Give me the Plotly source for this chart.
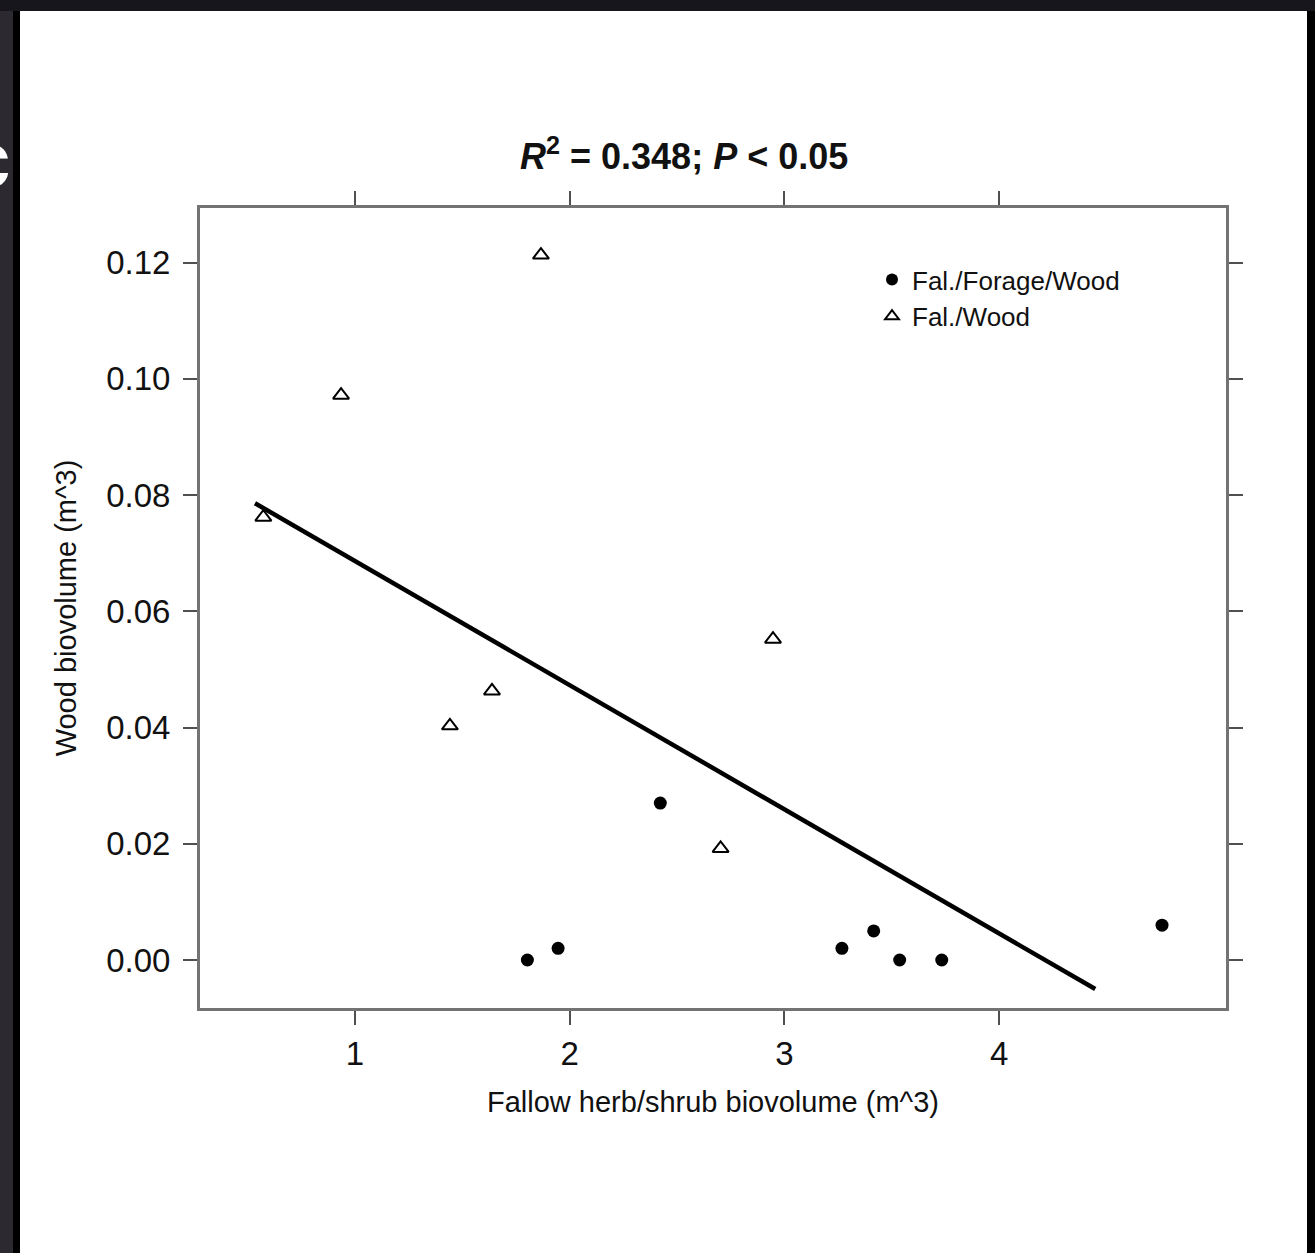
import plotly.graph_objects as go

# ---- data ----
forage_x = [1.803, 1.946, 2.422, 3.268, 3.416, 3.537, 3.733, 4.759]
forage_y = [0.000, 0.002, 0.027, 0.002, 0.005, 0.000, 0.000, 0.006]
wood_x = [0.573, 0.935, 1.866, 1.442, 1.638, 2.947, 2.703]
wood_y = [0.0762, 0.0972, 0.1213, 0.0403, 0.0463, 0.0552, 0.0192]
fit_x = [0.534, 4.448]
fit_y = [0.0786, -0.0050]
x_ticks = [1, 2, 3, 4]
y_ticks = [0.00, 0.02, 0.04, 0.06, 0.08, 0.10, 0.12]
series_names = ["Fal./Forage/Wood", "Fal./Wood"]
title_html = "<b><i>R</i><sup>2</sup> = 0.348; <i>P</i> &lt; 0.05</b>"
x_title = "Fallow herb/shrub biovolume (m^3)"
y_title = "Wood biovolume (m^3)"

W, H = 1315, 1253
L, R, T, B = 200, 89, 208, 245
PW, PH = W - L - R, H - T - B

def px(xv):
    return (xv - L) / PW

def py(yv):
    return (H - B - yv) / PH

FONT = "Liberation Sans, Arial, Helvetica, sans-serif"

fig = go.Figure()
fig.add_trace(go.Scatter(
    x=fit_x, y=fit_y, mode="lines", line=dict(color="black", width=4.5),
    showlegend=False, hoverinfo="skip"))
fig.add_trace(go.Scatter(
    x=forage_x, y=forage_y, mode="markers", name=series_names[0],
    marker=dict(symbol="circle", size=13, color="black")))
fig.add_trace(go.Scatter(
    x=wood_x, y=wood_y, mode="markers", name=series_names[1],
    marker=dict(symbol="triangle-up-open", size=14, color="black",
                line=dict(color="black", width=2))))

shapes = [
    dict(type="rect", xref="paper", yref="paper", x0=px(0), x1=px(13), y0=py(11), y1=py(H),
         fillcolor="#2c2a30", line=dict(width=0), layer="below"),
    dict(type="rect", xref="paper", yref="paper", x0=px(13), x1=px(20), y0=py(11), y1=py(H),
         fillcolor="#000000", line=dict(width=0), layer="below"),
    dict(type="rect", xref="paper", yref="paper", x0=px(20), x1=px(1307), y0=py(11), y1=py(H),
         fillcolor="#ffffff", line=dict(width=0), layer="below"),
    dict(type="rect", xref="paper", yref="paper", x0=px(1307), x1=px(W), y0=py(11), y1=py(H),
         fillcolor="#000000", line=dict(width=0), layer="below"),
]

axis_common = dict(
    showline=True, linecolor="#737373", linewidth=3, mirror="ticks",
    ticks="outside", ticklen=14, tickwidth=2, tickcolor="#505050",
    showgrid=False, zeroline=False,
    tickfont=dict(family=FONT, size=33, color="#111111"),
)

fig.update_layout(
    width=W, height=H,
    margin=dict(l=L, r=R, t=T, b=B, autoexpand=False),
    paper_bgcolor="#18161d", plot_bgcolor="white",
    shapes=shapes,
    xaxis=dict(axis_common, range=[0.278, 5.057], tickvals=x_ticks,
               ticktext=[str(v) for v in x_ticks], ticklabelstandoff=0,
               title=dict(text=x_title, font=dict(family=FONT, size=29, color="#111111"), standoff=22)),
    yaxis=dict(axis_common, range=[-0.00826, 0.1294], tickvals=y_ticks,
               ticktext=["%.2f" % v for v in y_ticks], ticklabelstandoff=6,
               title=dict(text=y_title, font=dict(family=FONT, size=29, color="#111111"), standoff=22)),
    legend=dict(x=px(872), y=py(256), xanchor="left", yanchor="top",
                bgcolor="rgba(0,0,0,0)", font=dict(family=FONT, size=26, color="#111111"),
                itemsizing="constant", tracegroupgap=0),
    showlegend=True,
    annotations=[
        dict(text=title_html, xref="paper", yref="paper", x=px(684), y=py(154),
             xanchor="center", yanchor="middle", showarrow=False,
             font=dict(family=FONT, size=36, color="#111111")),
        dict(text="<b>c</b>", xref="paper", yref="paper", x=px(13), y=py(160),
             xanchor="right", yanchor="middle", showarrow=False,
             font=dict(family=FONT, size=80, color="white")),
    ],
)

fig.write_html("out.html", config={"displayModeBar": False},
               post_script="document.body.style.margin='0';document.body.style.overflow='hidden';")
